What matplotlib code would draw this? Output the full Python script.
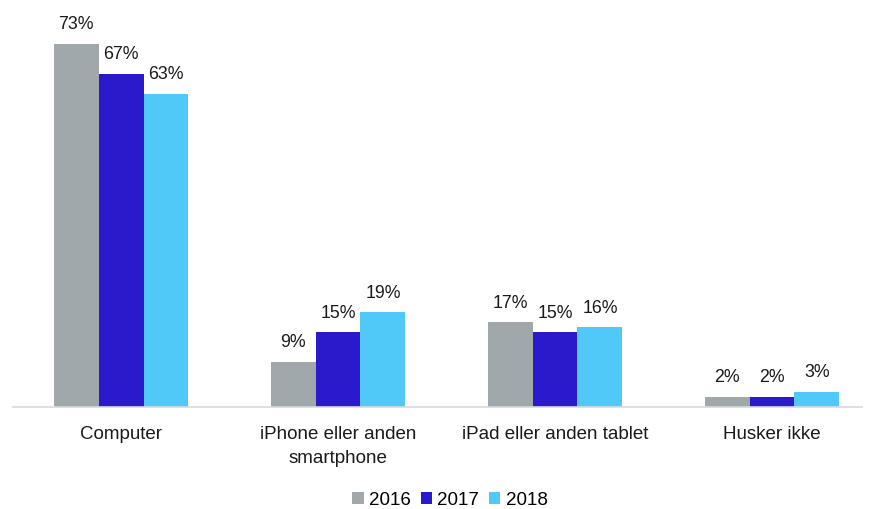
import matplotlib
matplotlib.use("Agg")
import matplotlib.pyplot as plt
import numpy as np
from matplotlib.patches import Patch

categories = ["Computer", "iPhone eller anden\nsmartphone", "iPad eller anden tablet", "Husker ikke"]
years = ["2016", "2017", "2018"]
values_2016 = [73, 9, 17, 2]
values_2017 = [67, 15, 15, 2]
values_2018 = [63, 19, 16, 3]

colors = ["#A1A8AB", "#2B1ACB", "#50C9F9"]
series = [values_2016, values_2017, values_2018]

plt.rcParams["font.family"] = ["Liberation Sans", "DejaVu Sans"]

fig = plt.figure(figsize=(8.7, 5.1), dpi=100)
ax = fig.add_axes([13 / 870, 102 / 510, 849 / 870, 398 / 510])

x = np.arange(len(categories))
w = 0.207
for i, (vals, c) in enumerate(zip(series, colors)):
    pos = x + (i - 1) * w
    bars = ax.bar(pos, vals, width=w, color=c, edgecolor="none", zorder=2)
    for b, v in zip(bars, vals):
        ax.annotate(f"{v}%", (b.get_x() + b.get_width() / 2, v),
                    xytext=(0, 8.5), textcoords="offset points",
                    ha="center", va="bottom", fontsize=12.8, color="#1a1a1a")

ax.set_xlim(-0.498, 3.415)
ax.set_ylim(0, 80)
for s in ["top", "right", "left"]:
    ax.spines[s].set_visible(False)
ax.spines["bottom"].set_color("#d9d9d9")
ax.spines["bottom"].set_linewidth(1.2)
ax.set_yticks([])
ax.set_xticks(x)
ax.set_xticklabels(categories, fontsize=13.5, color="#1a1a1a", linespacing=1.55)
ax.tick_params(axis="x", length=0, pad=13)

handles = [Patch(facecolor=c, edgecolor="none") for c in colors]
fig.legend(handles, years, loc="center", bbox_to_anchor=(450 / 870, 1 - 501 / 510),
           ncol=3, frameon=False, fontsize=13.5, handlelength=0.6, handleheight=0.6,
           handletextpad=0.3, columnspacing=0.5)

fig.savefig("out.png", dpi=100)
